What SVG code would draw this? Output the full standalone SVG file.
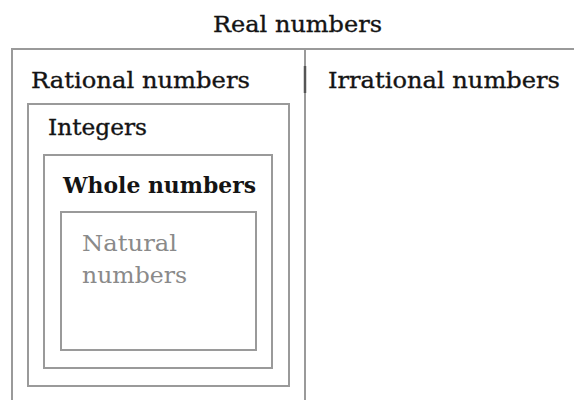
<svg xmlns="http://www.w3.org/2000/svg" width="574" height="400" viewBox="0 0 574 400">
  <style>
    .box { fill: none; stroke: #9a9a9a; stroke-width: 2; }
    .lbl { font-family: "DejaVu Serif", "Liberation Serif", serif; font-size: 23px; fill: #141414; stroke: #141414; stroke-width: 0.35; }
    .bold { font-weight: bold; stroke-width: 0; }
    .nat { fill: #8a8a8a; stroke: none; }
  </style>
  <rect width="574" height="400" fill="#ffffff"/>
  <g id="real">
    <text class="lbl" x="213" y="32" textLength="169" lengthAdjust="spacingAndGlyphs">Real numbers</text>
    <path class="box" d="M574 49 H12 V400"/>
  </g>
  <g id="rational">
    <text class="lbl" x="31" y="88" textLength="219" lengthAdjust="spacingAndGlyphs">Rational numbers</text>
  </g>
  <g id="irrational">
    <path class="box" d="M305 49 V400"/>
    <path d="M305 66 V93" stroke="#555" stroke-width="2.5"/>
    <text class="lbl" x="328" y="88" textLength="232" lengthAdjust="spacingAndGlyphs">Irrational numbers</text>
  </g>
  <g id="integers">
    <rect class="box" x="28" y="104" width="261" height="282"/>
    <text class="lbl" x="48" y="135" textLength="99" lengthAdjust="spacingAndGlyphs">Integers</text>
  </g>
  <g id="whole">
    <rect class="box" x="44" y="155" width="228" height="213"/>
    <text class="lbl bold" x="63" y="193" textLength="193" lengthAdjust="spacingAndGlyphs">Whole numbers</text>
  </g>
  <g id="natural">
    <rect class="box" x="61" y="212" width="195" height="138"/>
    <text class="lbl nat" x="82" y="251" textLength="95" lengthAdjust="spacingAndGlyphs">Natural</text>
    <text class="lbl nat" x="82" y="283" textLength="105" lengthAdjust="spacingAndGlyphs">numbers</text>
  </g>
  <g id="connectors"/>
</svg>
